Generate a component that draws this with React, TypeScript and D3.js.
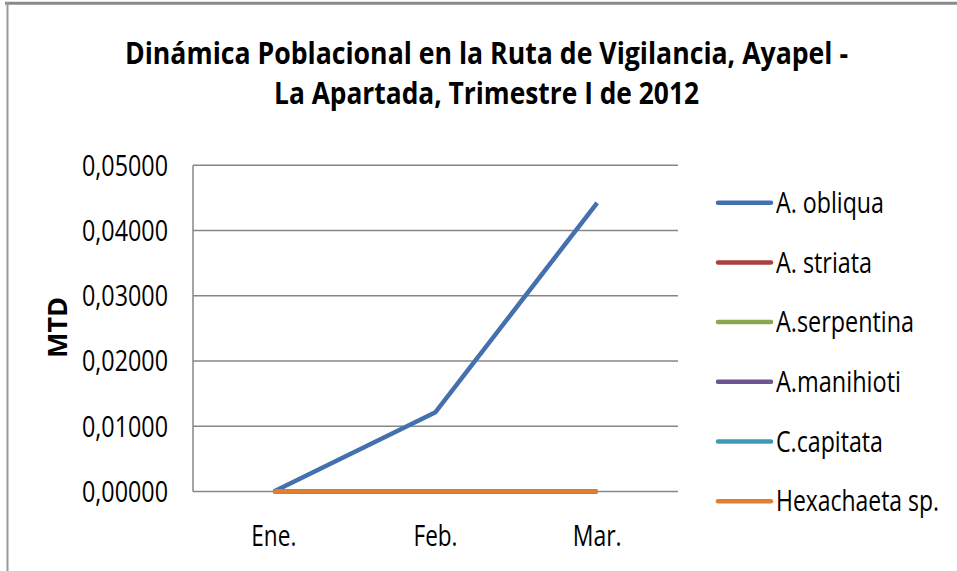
import React from "react";
import * as d3 from "d3";

const categories = ["Ene.", "Feb.", "Mar."];
const seriesNames = ["A. obliqua", "A. striata", "A.serpentina", "A.manihioti", "C.capitata", "Hexachaeta sp."];
const aObliqua = [0, 0.01216, 0.04425];
const aStriata = [0, 0, 0];
const aSerpentina = [0, 0, 0];
const aManihioti = [0, 0, 0];
const cCapitata = [0, 0, 0];
const hexachaeta = [0, 0, 0];
const yTicks = [0, 0.01, 0.02, 0.03, 0.04, 0.05];
const titleLines = ["Dinámica Poblacional  en la Ruta de Vigilancia, Ayapel -", "La Apartada, Trimestre I de 2012"];
const yLabel = "MTD";

// layout: rendered text widths (px) to mimic the narrow original font
const titleWidths = [723, 425];
const catWidths: Record<string, number> = { "Ene.": 45, "Feb.": 44, "Mar.": 49 };
const legendWidths = [108, 96, 138, 125, 107, 163];
const tickWidth = 86;

const colors = ["#4470AE", "#A8423F", "#8AA84B", "#6E5491", "#3F9AB5", "#DF7F31"];
const FONT = "'Open Sans', 'DejaVu Sans', sans-serif";

export default function App() {
  const W = 957, H = 571;
  const plot = { left: 193, right: 678, top: 165.3, bottom: 491.5 };
  const x = d3.scaleBand().domain(categories).range([plot.left, plot.right]);
  const y = d3.scaleLinear().domain([0, 0.05]).range([plot.bottom, plot.top]);
  const allSeries = [aObliqua, aStriata, aSerpentina, aManihioti, cCapitata, hexachaeta];
  const line = d3
    .line<number>()
    .x((_, i) => (x(categories[i]) as number) + x.bandwidth() / 2)
    .y((d) => y(d));
  const fmt = (v: number) => v.toFixed(5).replace(".", ",");
  const legendY0 = 202.7;
  const legendStep = 59.7;
  return (
    <svg width={W} height={H} style={{ position: "absolute", left: 0, top: 0, background: "#fff" }} fontFamily={FONT}>
      <rect x={0} y={0} width={W} height={H} fill="#fff" />
      {/* chart frame */}
      <line x1={5} x2={W} y1={3.2} y2={3.2} stroke="#8a8a8a" strokeWidth={3} />
      <line x1={7.5} x2={7.5} y1={2} y2={H} stroke="#9a9a9a" strokeWidth={2} />
      {/* title */}
      {titleLines.map((t, i) => (
        <text
          key={i}
          x={486.5 - titleWidths[i] / 2}
          y={64.3 + i * 40}
          textLength={titleWidths[i]}
          lengthAdjust="spacingAndGlyphs"
          fontWeight="bold"
          fontSize={29.5}
          fill="#000"
        >
          {t}
        </text>
      ))}
      {/* gridlines */}
      {yTicks.map((t) => (
        <line key={t} x1={plot.left} x2={plot.right} y1={y(t)} y2={y(t)} stroke="#868686" strokeWidth={1.5} />
      ))}
      <line x1={plot.left} x2={plot.left} y1={plot.top} y2={plot.bottom} stroke="#868686" strokeWidth={1.5} />
      {/* y tick labels */}
      {yTicks.map((t) => (
        <text
          key={"l" + t}
          x={168 - tickWidth}
          y={y(t)}
          dy="0.36em"
          textLength={tickWidth}
          lengthAdjust="spacingAndGlyphs"
          fontSize={28.5}
          fill="#000"
        >
          {fmt(t)}
        </text>
      ))}
      {/* y label */}
      <text
        transform={`translate(67,358) rotate(-90)`}
        textLength={61}
        lengthAdjust="spacingAndGlyphs"
        fontWeight="bold"
        fontSize={26.5}
        fill="#000"
      >
        {yLabel}
      </text>
      {/* x labels */}
      {categories.map((c) => (
        <text
          key={c}
          x={(x(c) as number) + x.bandwidth() / 2 - catWidths[c] / 2}
          y={545.5}
          textLength={catWidths[c]}
          lengthAdjust="spacingAndGlyphs"
          fontSize={28.5}
          fill="#000"
        >
          {c}
        </text>
      ))}
      {/* series */}
      {allSeries.map((s, i) => (
        <path key={i} d={line(s) || ""} fill="none" stroke={colors[i]} strokeWidth={4.5} strokeLinejoin="round" />
      ))}
      {/* legend */}
      {seriesNames.map((n, i) => (
        <g key={n} transform={`translate(0,${legendY0 + i * legendStep})`}>
          <line x1={718} x2={771} y1={0} y2={0} stroke={colors[i]} strokeWidth={4.5} strokeLinecap="round" />
          <text
            x={776}
            y={0}
            dy="0.36em"
            textLength={legendWidths[i]}
            lengthAdjust="spacingAndGlyphs"
            fontSize={28.5}
            fill="#000"
          >
            {n}
          </text>
        </g>
      ))}
    </svg>
  );
}
